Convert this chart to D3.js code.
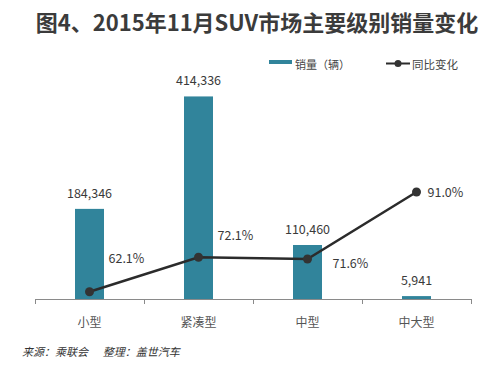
<!DOCTYPE html>
<html>
<head>
<meta charset="utf-8">
<title>2015年11月SUV市场主要级别销量变化</title>
<script src="https://d3js.org/d3.v7.min.js"></script>
<style>
*{ margin:0; padding:0; }
body{ background:#fff; }
svg{ display:block; font-family:"Noto Sans CJK SC","Noto Sans",sans-serif; }
</style>
</head>
<body>
<script>
// 数据
var categories = ["小型", "紧凑型", "中型", "中大型"];
var sales = [184346, 414336, 110460, 5941];
var yoy = [62.1, 72.1, 71.6, 91.0];
// 百分比标签相对数据点的偏移(仿原图手动摆放)
var pctOffset = [[19, -29], [19, -17], [25, 9], [11, 5]];

var width = 500, height = 370;
var left = 35, right = 471, base = 299;
var barColor = "#31849b", lineColor = "#2b2b2b";

var svg = d3.select("body").append("svg")
	.attr("width", width)
	.attr("height", height);

svg.append("rect").attr("width", width).attr("height", height).attr("fill", "#fff");

// 标题
svg.append("text")
	.attr("x", 257).attr("y", 31)
	.attr("text-anchor", "middle")
	.attr("font-size", 22).attr("font-weight", "bold")
	.attr("fill", "#3b3b3b")
	.text("图4、2015年11月SUV市场主要级别销量变化");

var x = d3.scaleBand().domain(categories).range([left, right]);
var y = d3.scaleLinear().domain([0, 450000]).range([base, 79]);
var y2 = d3.scaleLinear().domain([60, 100]).range([base, 161]);
var barW = 29;
var cx = function(i){ return x(categories[i]) + x.bandwidth() / 2; };

// 柱子
svg.selectAll("rect.bar").data(sales).enter().append("rect")
	.attr("class", "bar")
	.attr("x", (d, i) => cx(i) - barW / 2)
	.attr("y", d => y(d))
	.attr("width", barW)
	.attr("height", d => base - y(d))
	.attr("fill", barColor);

svg.selectAll("text.val").data(sales).enter().append("text")
	.attr("class", "val")
	.attr("x", (d, i) => cx(i))
	.attr("y", d => y(d) - 11)
	.attr("text-anchor", "middle")
	.attr("font-size", 12.5)
	.attr("fill", "#3a3a3a")
	.text(d => d3.format(",")(d));

// 横轴
var g = svg.append("g");
g.append("line")
	.attr("x1", left).attr("x2", right)
	.attr("y1", base + 0.5).attr("y2", base + 0.5)
	.attr("stroke", "#8a8a8a");
var bounds = categories.map(c => x(c)).concat([right]);
g.selectAll("line.tick").data(bounds).enter().append("line")
	.attr("class", "tick")
	.attr("x1", d => Math.round(d) + 0.5).attr("x2", d => Math.round(d) + 0.5)
	.attr("y1", base).attr("y2", base + 5)
	.attr("stroke", "#8a8a8a");
g.selectAll("text.cat").data(categories).enter().append("text")
	.attr("class", "cat")
	.attr("x", (d, i) => cx(i))
	.attr("y", 327)
	.attr("text-anchor", "middle")
	.attr("font-size", 12)
	.attr("fill", "#555")
	.text(d => d);

// 折线
var line = d3.line().x((d, i) => cx(i)).y(d => y2(d));
svg.append("path")
	.datum(yoy)
	.attr("d", line)
	.attr("fill", "none")
	.attr("stroke", lineColor)
	.attr("stroke-width", 2.5);
svg.selectAll("circle.pt").data(yoy).enter().append("circle")
	.attr("class", "pt")
	.attr("cx", (d, i) => cx(i))
	.attr("cy", d => y2(d))
	.attr("r", 4.5)
	.attr("fill", "#333");
svg.selectAll("text.pct").data(yoy).enter().append("text")
	.attr("class", "pct")
	.attr("x", (d, i) => cx(i) + pctOffset[i][0])
	.attr("y", (d, i) => y2(d) + pctOffset[i][1])
	.attr("font-size", 12.5)
	.attr("fill", "#3a3a3a")
	.text(d => d.toFixed(1) + "%");

// 图例
var lg = svg.append("g");
lg.append("rect").attr("x", 269).attr("y", 60).attr("width", 23).attr("height", 4).attr("fill", barColor);
lg.append("text").attr("x", 295).attr("y", 68.5).attr("font-size", 11).attr("fill", "#444").text("销量（辆）");
lg.append("line").attr("x1", 386).attr("x2", 410).attr("y1", 63.5).attr("y2", 63.5)
	.attr("stroke", lineColor).attr("stroke-width", 2);
lg.append("circle").attr("cx", 398).attr("cy", 63.5).attr("r", 3.5).attr("fill", "#333");
lg.append("text").attr("x", 412).attr("y", 68.5).attr("font-size", 11.5).attr("fill", "#444").text("同比变化");

// 来源
svg.append("text")
	.attr("x", 22).attr("y", 356)
	.attr("font-size", 11).attr("font-style", "italic")
	.attr("fill", "#333")
	.attr("xml:space", "preserve")
	.text("来源：乘联会      整理：盖世汽车");
</script>
</body>
</html>
